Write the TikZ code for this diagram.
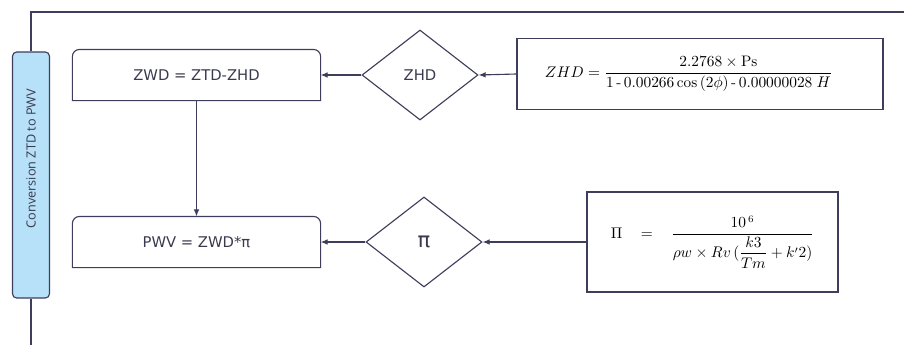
\documentclass[tikz,border=0pt]{standalone}
\usepackage{amsmath}
\usepackage{fontspec}
\usetikzlibrary{arrows.meta,shapes.geometric}
\newfontfamily\boxfont{DejaVu Sans}
\newfontfamily\pillfont{Open Sans}
\definecolor{frameink}{RGB}{62,62,92}
\definecolor{textink}{RGB}{58,58,78}
\definecolor{pillblue}{RGB}{182,225,248}

\begin{document}
\begin{tikzpicture}[
  x=0.025cm, y=-0.025cm,
  line width=0.8pt,
  sidebar/.style={rounded corners=3pt, draw=frameink, fill=pillblue,
                  minimum width=0.925cm, minimum height=6.15cm,
                  inner sep=0pt, text=textink,
                  font=\pillfont\fontsize{9}{11}\selectfont},
  stepbox/.style={minimum width=6.175cm, minimum height=1.25cm,
                  inner sep=0pt, text=textink,
                  font=\boxfont\fontsize{10.5}{12}\selectfont,
                  append after command={\pgfextra{
                    \draw[frameink]
                    (\tikzlastnode.south west)
                    -- ([yshift=-5pt]\tikzlastnode.north west)
                    arc[start angle=180, end angle=90, radius=5pt]
                    -- ([xshift=-5pt]\tikzlastnode.north east)
                    arc[start angle=90, end angle=0, radius=5pt]
                    -- (\tikzlastnode.south east) -- cycle;}}},
  decision/.style={diamond, draw=frameink, fill=white,
                   minimum width=2.9cm, minimum height=2.25cm,
                   inner sep=0pt, text=textink,
                   font=\boxfont\fontsize{10.5}{12}\selectfont},
  formula/.style={draw=frameink, fill=white, inner sep=0pt,
                  line width=1pt},
  flow/.style={draw=frameink, -{Latex[length=5pt,width=4pt]}},
]
\useasboundingbox (0,0) rectangle (904,345);

% -------------------------------------------------------------------------
% Frame and side label
% -------------------------------------------------------------------------
\coordinate (topleft) at (31,12);
\coordinate (topright) at (904,12);
\coordinate (bottomleft) at (31,345);
\node[sidebar] (side) at (31,175)
  {\rotatebox{90}{\hspace*{8.2mm}Conversion ZTD to PWV}};
\draw[frameink] (topright) -- (topleft) -- (side.north);
\draw[frameink] (side.south) -- (bottomleft);

% -------------------------------------------------------------------------
% Row 1: hydrostatic delay
% -------------------------------------------------------------------------
\node[stepbox] (zwd) at (196.5,75) {ZWD = ZTD-ZHD};
\node[decision] (zhd) at (420,75) {ZHD};
\node[formula, minimum width=9.15cm, minimum height=1.775cm,
      font=\fontsize{10.8}{13}\selectfont] (zhdeq) at (700,74)
  {\makebox[9.15cm][l]{\hspace{7mm}$ZHD=\dfrac{2.2768\times\mathrm{Ps}}
     {1\,\text{-}\,0.00266\cos\,(2\phi)\,\text{-}\,0.00000028\;H}$}};

% -------------------------------------------------------------------------
% Row 2: precipitable water vapour
% -------------------------------------------------------------------------
\node[stepbox] (pwv) at (196.5,242) {PWV = ZWD*π};
\node[decision, font=\boxfont\fontsize{15}{17}\selectfont] (pi) at (424,242) {π};
\node[formula, minimum width=6.275cm, minimum height=2.5cm,
      font=\fontsize{10.5}{13}\selectfont] (pieq) at (712.5,242)
  {\makebox[6.275cm][l]{\hspace{6mm}$\Pi\hspace{3.5mm}=\hspace{3.5mm}\dfrac{10^{\,6}}
     {\rho w\times Rv\,(\dfrac{k3}{Tm}+k'2)}$}};

\draw[flow] (zhdeq.west) -- (zhd.east);
\draw[flow] (zhd.west) -- (zwd.east);
\draw[flow] (zwd.south) -- (pwv.north);
\draw[flow] (pieq.west) -- (pi.east);
\draw[flow] (pi.west) -- (pwv.east);

\end{tikzpicture}
\end{document}
